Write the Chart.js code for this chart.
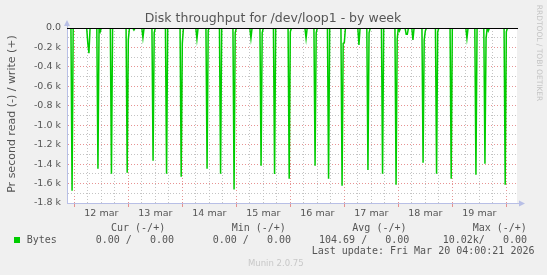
<!DOCTYPE html>
<html>
<head>
<meta charset="utf-8">
<script src="https://cdn.jsdelivr.net/npm/chart.js@4.4.1/dist/chart.umd.min.js"></script>
<style>
  body { margin: 0; background: #f0f0f0; }
  #disk-chart { display: block; }
</style>
</head>
<body>
<canvas id="disk-chart" width="547" height="275"></canvas>
<script>
// hours are counted from 12 mar 00:00, samples every 30 minutes
const sampleStart = -3
const sampleEnd = 196.5
const spikeHours = [-1, 6, 6.5, 10.5, 11.5, 16.5, 23.5, 24, 26.5, 30.5, 35, 35.5, 41, 47.5, 48, 54.5,
  59, 59.5, 65, 71, 71.5, 78.5, 83, 83.5, 89, 95.5, 96, 103, 107, 107.5, 113, 119, 119.5, 120,
  126.5, 130.5, 131, 137, 143, 143.5, 144.5, 147.5, 148, 150.5, 155, 155.5, 156, 161, 161.5,
  167.5, 174.5, 178.5, 182.5, 183, 184, 191.5, 192]
const spikeValues = [-1673, -158, -260, -1447, -38, -1499, -1488, -120, -20, -100, -1365, -50, -1499, -1529, -158, -113,
  -1447, -25, -1499, -1660, -50, -106, -1417, -50, -1502, -1550, -40, -106, -1417, -50, -1550, -1622, -158, -150,
  -175, -1461, -50, -1499, -1611, -113, -30, -65, -65, -123, -1386, -123, -30, -1499, -40,
  -1550, -106, -1509, -1396, -106, -30, -1611, -40]
const dayNames = ["12 mar", "13 mar", "14 mar", "15 mar", "16 mar", "17 mar", "18 mar", "19 mar"]

// build the 30 minute series, zero where nothing was read
const points = []
for (let h = sampleStart; h <= sampleEnd; h += 0.5) {
  const i = spikeHours.indexOf(h)
  points.push({ x: h, y: i >= 0 ? spikeValues[i] : 0 })
}

const redGrid = 'rgba(225, 120, 120, 0.8)'
const greyGrid = 'rgba(190, 190, 190, 0.9)'
const axisBlue = '#b8bfe6'

const muninDecor = {
  id: 'muninDecor',
  beforeDraw(chart) {
    const { ctx, chartArea } = chart
    ctx.save()
    ctx.fillStyle = '#f0f0f0'
    ctx.fillRect(0, 0, chart.width, chart.height)
    ctx.fillStyle = '#ffffff'
    ctx.fillRect(chartArea.left, chartArea.top, chartArea.right - chartArea.left, chartArea.bottom - chartArea.top)
    ctx.restore()
  },
  afterDatasetsDraw(chart) {
    const { ctx, chartArea, scales } = chart
    const y0 = Math.round(scales.y.getPixelForValue(0)) + 0.5
    ctx.save()
    ctx.strokeStyle = '#000000'
    ctx.lineWidth = 1
    ctx.beginPath()
    ctx.moveTo(chartArea.left, y0)
    ctx.lineTo(chartArea.right + 1, y0)
    ctx.stroke()
    ctx.restore()
  },
  afterDraw(chart) {
    const { ctx, chartArea } = chart
    ctx.save()
    // axis arrows
    ctx.fillStyle = axisBlue
    ctx.beginPath()
    ctx.moveTo(chartArea.left - 3, chartArea.top - 2)
    ctx.lineTo(chartArea.left + 3, chartArea.top - 2)
    ctx.lineTo(chartArea.left, chartArea.top - 8)
    ctx.fill()
    ctx.strokeStyle = axisBlue
    ctx.beginPath()
    ctx.moveTo(chartArea.left + 0.5, chartArea.top)
    ctx.lineTo(chartArea.left + 0.5, chartArea.top - 2)
    ctx.moveTo(chartArea.right, chartArea.bottom + 0.5)
    ctx.lineTo(chartArea.right + 2, chartArea.bottom + 0.5)
    ctx.stroke()
    ctx.beginPath()
    ctx.moveTo(chartArea.right + 2, chartArea.bottom - 2.5)
    ctx.lineTo(chartArea.right + 2, chartArea.bottom + 3.5)
    ctx.lineTo(chartArea.right + 8, chartArea.bottom + 0.5)
    ctx.fill()

    // title
    ctx.fillStyle = '#555555'
    ctx.font = '12.5px "DejaVu Sans"'
    ctx.textAlign = 'center'
    ctx.textBaseline = 'alphabetic'
    ctx.fillText('Disk throughput for /dev/loop1 - by week', 273, 22)

    // vertical axis title
    ctx.save()
    ctx.translate(15, 114)
    ctx.rotate(-Math.PI / 2)
    ctx.font = '11px "DejaVu Sans"'
    ctx.fillText('Pr second read (-) / write (+)', 0, 0)
    ctx.restore()

    // rrdtool credit
    ctx.save()
    ctx.translate(537, 53)
    ctx.rotate(Math.PI / 2)
    ctx.fillStyle = '#c4c4c4'
    ctx.font = '7.5px "DejaVu Sans"'
    ctx.fillText('RRDTOOL / TOBI OETIKER', 0, 0)
    ctx.restore()

    // legend
    ctx.font = '10px "DejaVu Sans Mono"'
    ctx.textAlign = 'left'
    ctx.textBaseline = 'middle'
    ctx.fillStyle = '#555555'
    ctx.fillText('Cur (-/+)', 111, 228)
    ctx.fillText('Min (-/+)', 231.7, 228)
    ctx.fillText('Avg (-/+)', 352.3, 228)
    ctx.fillText('Max (-/+)', 472.7, 228)
    ctx.fillText('Bytes', 26.7, 240)
    ctx.fillText('0.00 /   0.00', 95.7, 240)
    ctx.fillText('0.00 /   0.00', 212.7, 240)
    ctx.fillText('104.69 /   0.00', 319, 240)
    ctx.fillText('10.02k/   0.00', 442.7, 240)
    ctx.fillText('Last update: Fri Mar 20 04:00:21 2026', 311.7, 251)
    ctx.fillStyle = '#00cc00'
    ctx.fillRect(14, 237, 6, 6)

    ctx.fillStyle = '#c8c8c8'
    ctx.font = '8.5px "DejaVu Sans"'
    ctx.fillText('Munin 2.0.75', 248, 264)
    ctx.restore()
  }
}

document.addEventListener('DOMContentLoaded', () => {
  const ctx = document.getElementById('disk-chart').getContext('2d')
  const diskChart = new Chart(ctx, {
    type: 'line',
    data: {
      datasets: [{
        label: 'Bytes',
        data: points,
        borderColor: '#00cc00',
        borderWidth: 1.5,
        pointRadius: 0,
        tension: 0,
        fill: false
      }]
    },
    options: {
      responsive: false,
      animation: false,
      devicePixelRatio: 1,
      layout: { padding: { left: 0, top: 28, right: 30, bottom: 0 } },
      scales: {
        x: {
          type: 'linear',
          min: -3.25,
          max: 196.75,
          afterFit: (scale) => { scale.height = 72 },
          afterBuildTicks: (scale) => {
            const ticks = []
            for (let h = 0; h <= 192; h += 6) ticks.push({ value: h })
            scale.ticks = ticks
          },
          ticks: {
            autoSkip: false,
            maxRotation: 0,
            padding: 1,
            color: '#555555',
            font: { family: 'DejaVu Sans', size: 9.5 },
            callback: (value) => value % 24 === 12 ? dayNames[(value - 12) / 24] : ''
          },
          grid: {
            color: (c) => c.tick && c.tick.value % 24 === 0 ? redGrid : greyGrid,
            tickColor: (c) => c.tick && c.tick.value % 24 === 0 ? redGrid : 'rgba(0,0,0,0)',
            tickLength: 4,
            lineWidth: 1
          },
          border: { display: true, color: axisBlue, width: 1, dash: [1, 2] }
        },
        y: {
          min: -1800,
          max: 0,
          afterFit: (scale) => { scale.width = 67 },
          afterBuildTicks: (scale) => {
            const ticks = []
            for (let v = -1800; v <= 0; v += 100) ticks.push({ value: v })
            scale.ticks = ticks
          },
          ticks: {
            autoSkip: false,
            padding: 6,
            color: '#555555',
            font: { family: 'DejaVu Sans', size: 9.5 },
            callback: (value) => {
              if (value % 200 !== 0) return ''
              if (value === 0) return '0.0'
              return (value / 1000).toFixed(1) + ' k'
            }
          },
          grid: {
            color: (c) => c.tick && c.tick.value % 200 === 0 ? redGrid : greyGrid,
            drawTicks: false,
            lineWidth: 1
          },
          border: { display: true, color: axisBlue, width: 1, dash: [1, 2] }
        }
      },
      plugins: {
        legend: { display: false },
        tooltip: { enabled: false }
      }
    },
    plugins: [muninDecor]
  })
})
</script>
</body>
</html>
